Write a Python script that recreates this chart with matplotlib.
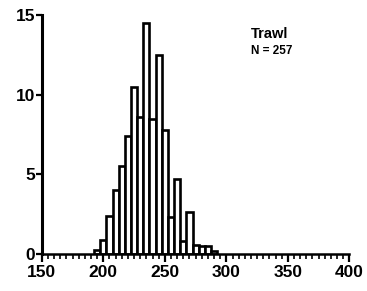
"""
Length-frequency histogram, trawl samples (N = 257).
Percent of fish per 5 mm length class.
"""

import matplotlib
matplotlib.use("Agg")
import matplotlib.pyplot as plt

plt.rcParams["font.family"] = ["Liberation Sans", "DejaVu Sans"]
plt.rcParams["font.weight"] = "bold"

# 5 mm length classes (centres) and percent of fish in each
length_mid = [195, 200, 205, 210, 215, 220, 225, 230, 235, 240,
              245, 250, 255, 260, 265, 270, 275, 280, 285, 290]
pct = [0.25, 0.9, 2.4, 4.0, 5.5, 7.4, 10.5, 8.6, 14.5, 8.5,
       12.5, 7.8, 2.35, 4.7, 0.8, 2.66, 0.57, 0.5, 0.5, 0.2]
BIN_W = 5

x_major = [150, 200, 250, 300, 350, 400]
y_major = [0, 5, 10, 15]

gear = "Trawl"
n_fish = 257


def main():
    fig = plt.figure(figsize=(3.67, 2.91), dpi=100)
    ax = fig.add_axes([0.114, 0.127, 0.838, 0.821])

    ax.bar(length_mid, pct, width=BIN_W, facecolor="white",
           edgecolor="black", linewidth=1.9, zorder=2)

    ax.set_xlim(150, 400)
    ax.set_ylim(0, 15)
    for s in ("top", "right"):
        ax.spines[s].set_visible(False)
    ax.spines["left"].set_linewidth(2.2)
    ax.spines["bottom"].set_linewidth(1.8)

    ax.set_xticks(x_major)
    ax.set_xticks(range(150, 401, 5), minor=True)
    ax.set_yticks(y_major)
    ax.tick_params(axis="x", which="major", length=6, width=1.6,
                   labelsize=12.5, pad=2)
    ax.tick_params(axis="x", which="minor", length=3.5, width=1.2)
    ax.tick_params(axis="y", which="major", length=4, width=1.6,
                   labelsize=12.5, pad=1)
    for lab in ax.get_xticklabels() + ax.get_yticklabels():
        lab.set_fontweight("bold")

    fig.text(0.683, 0.859, gear, fontsize=10.5, fontweight="bold",
             va="bottom")
    fig.text(0.683, 0.803, f"N = {n_fish}", fontsize=8.5,
             fontweight="bold", va="bottom")

    fig.savefig("out.png", dpi=100)
    plt.close(fig)


if __name__ == "__main__":
    main()
